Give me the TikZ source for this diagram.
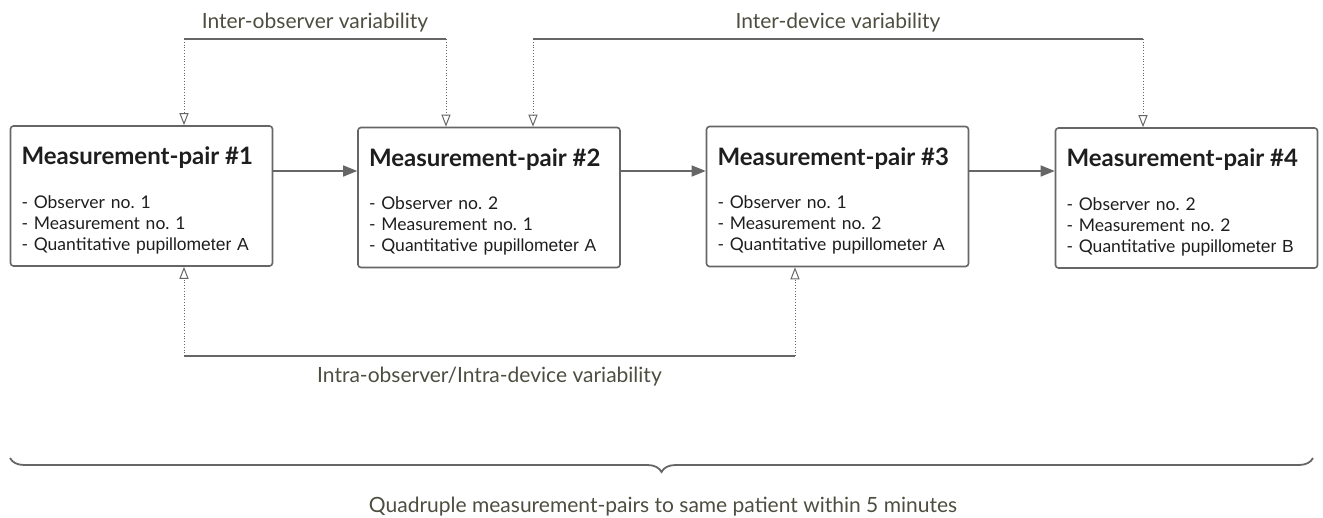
\documentclass[tikz,border=0pt]{standalone}
\usepackage{fontspec}
\setmainfont{Lato}
\newfontfamily\arialfont{Liberation Sans}
\usetikzlibrary{arrows.meta,decorations.pathreplacing}
\definecolor{linegray}{HTML}{666666}
\definecolor{labelcol}{HTML}{4D4D40}
\definecolor{boxtext}{HTML}{1E1E1E}
\frenchspacing
\tikzset{
  mbox/.style={draw=linegray, line width=1.6pt, rounded corners=3pt, minimum width=262pt, minimum height=140pt, text width=240pt, align=left, inner xsep=11pt, text=boxtext, font=\fontsize{17.5}{21.2}\selectfont},
  flow/.style={draw=linegray, line width=1.4pt, -{Triangle[length=14pt,width=11pt]}},
  dotarr/.style={draw=linegray, line width=0.8pt, dotted, -{Triangle[open,length=12pt,width=9pt,line width=1pt]}},
  bracket/.style={draw=linegray, line width=2.4pt},
  lbl/.style={text=labelcol, font=\fontsize{21}{25}\selectfont, inner sep=0pt},
}
\newcommand{\mtitle}[1]{{\fontsize{24}{26}\selectfont\bfseries\rule{0pt}{27pt}#1}}
\newcommand{\mlist}[3]{- #1\\- #2\\- Quantitative {\arialfont pupillometer #3}}
\begin{document}
\begin{tikzpicture}[x=1pt,y=-1pt]
\useasboundingbox (0,0) rectangle (1323,518);
\node[mbox] (m1) at (141.5,196) {\mtitle{Measurement-pair \#1}\\[22pt]\mlist{Observer no. 1}{Measurement no. 1}{A}};
\node[mbox] (m2) at (489,197.5) {\mtitle{Measurement-pair \#2}\\[22pt]\mlist{Observer no. 2}{Measurement no. 1}{A}};
\node[mbox] (m3) at (837.5,196.5) {\mtitle{Measurement-pair \#3}\\[22pt]\mlist{Observer no. 1}{Measurement no. 2}{A}};
\node[mbox] (m4) at (1186.5,198) {\mtitle{Measurement-pair \#4}\\[22pt]\mlist{Observer no. 2}{Measurement no. 2}{B}};
% flow arrows
\draw[flow] (m1.east |- 0,171) -- (m2.west |- 0,171);
\draw[flow] (m2.east |- 0,171) -- (m3.west |- 0,171);
\draw[flow] (m3.east |- 0,171) -- (m4.west |- 0,171);
% inter-observer
\coordinate (ioa) at (184,39);
\coordinate (iob) at (446,39);
\draw[bracket] (ioa) -- (iob);
\node[lbl, anchor=south] (iol) at (315,32) {Inter-observer variability};
\draw[dotarr] (ioa) -- (ioa |- m1.north);
\draw[dotarr] (iob) -- (iob |- m2.north);
% inter-device
\coordinate (ida) at (533,39);
\coordinate (idb) at (1143,39);
\draw[bracket] (ida) -- (idb);
\node[lbl, anchor=south] (idl) at (838,32) {Inter-device variability};
\draw[dotarr] (ida) -- (ida |- m2.north);
\draw[dotarr] (idb) -- (idb |- m4.north);
% intra
\coordinate (iaa) at (184,356);
\coordinate (iab) at (795,356);
\draw[bracket] (iaa) -- (iab);
\node[lbl, anchor=north] (ial) at (489.5,367) {Intra-observer/Intra-device variability};
\draw[dotarr] (iaa) -- (iaa |- m1.south);
\draw[dotarr] (iab) -- (iab |- m3.south);
% brace
\coordinate (ba) at (10,458);
\coordinate (bb) at (1313,458);
\draw[draw=linegray, line width=1.8pt, decorate, decoration={brace, mirror, amplitude=14pt, raise=0pt}] (ba) -- (bb);
\node[lbl, anchor=center] (bl) at (663,507) {Quadruple measurement-pairs to same patient within 5 minutes};
\end{tikzpicture}
\end{document}
